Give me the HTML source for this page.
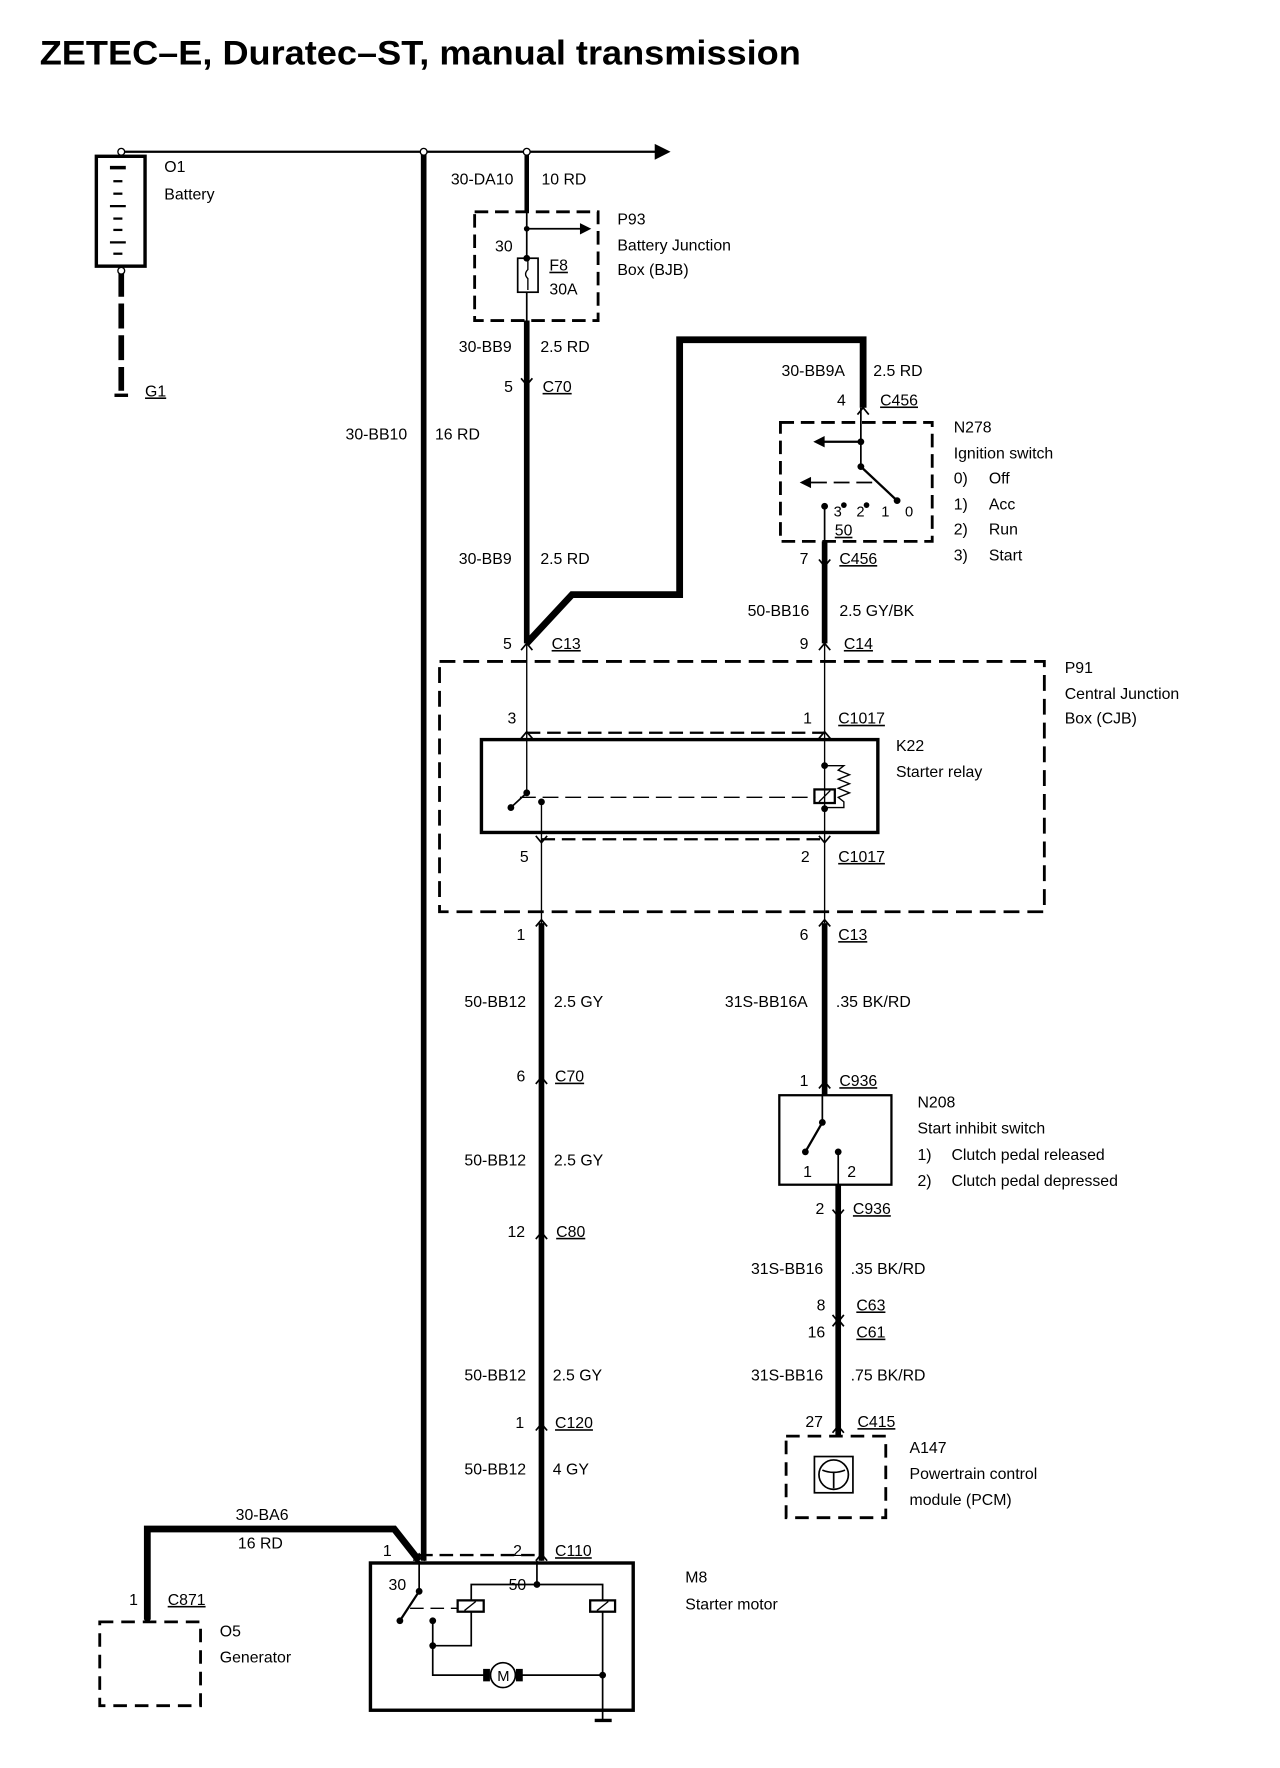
<!DOCTYPE html>
<html><head><meta charset="utf-8"><style>
html,body{margin:0;padding:0;background:#fff;}
svg{display:block;}
text{font-family:"Liberation Sans",sans-serif;font-size:14px;fill:#000;}
.u{text-decoration:underline;}
</style></head><body>
<svg width="1280" height="1768" viewBox="0 0 1130 1561" xmlns="http://www.w3.org/2000/svg">
<g fill="none" stroke="#000">
<!-- top bus -->
<line x1="107" y1="134" x2="580" y2="134" stroke-width="2"/>
<polygon points="578,127 592,134 578,141" fill="#000" stroke="none"/>
<!-- battery -->
<rect x="85" y="138" width="43" height="97" stroke-width="3"/>
<g stroke-width="2">
<line x1="97" y1="148" x2="111" y2="148" stroke-width="3"/>
<line x1="100" y1="160" x2="108" y2="160"/><line x1="100" y1="171" x2="108" y2="171"/>
<line x1="97" y1="182" x2="111" y2="182"/><line x1="100" y1="193" x2="108" y2="193"/>
<line x1="100" y1="203" x2="108" y2="203"/><line x1="97" y1="214" x2="111" y2="214"/>
<line x1="100" y1="224" x2="108" y2="224"/>
</g>
<line x1="107" y1="240" x2="107" y2="345" stroke-width="5" stroke-dasharray="22,6"/>
<line x1="101" y1="349" x2="113" y2="349" stroke-width="3"/>
<!-- 30-BB10 -->
<line x1="374" y1="134" x2="374" y2="1378" stroke-width="5"/>
<!-- 10RD / fuse -->
<line x1="465" y1="134" x2="465" y2="186" stroke-width="4"/>
<rect x="419" y="187" width="109" height="96" stroke-width="2.5" stroke-dasharray="12,6"/>
<line x1="465" y1="186" x2="465" y2="228" stroke-width="1.5"/>
<line x1="465" y1="202" x2="515" y2="202" stroke-width="1.5"/>
<polygon points="512,197 522,202 512,207" fill="#000" stroke="none"/>
<rect x="457" y="228" width="18" height="30" stroke-width="1.5"/>
<path d="M466,230 v8 q-4,4 0,8 v10" stroke-width="1.2"/>
<line x1="465" y1="258" x2="465" y2="283" stroke-width="1.5"/>
<line x1="465" y1="283" x2="465" y2="568" stroke-width="5"/>
<!-- feed to ignition -->
<polyline points="465,568 505,525 600,525 600,300 762,300 762,360" stroke-width="6" stroke-linejoin="miter"/>
<!-- ignition switch -->
<rect x="689" y="373" width="134" height="105" stroke-width="2.5" stroke-dasharray="12,6"/>
<line x1="760" y1="360" x2="760" y2="412" stroke-width="1.5"/>
<line x1="760" y1="390" x2="727" y2="390" stroke-width="2"/>
<polygon points="728,385 718,390 728,395" fill="#000" stroke="none"/>
<line x1="760" y1="412" x2="792" y2="442" stroke-width="2"/>
<line x1="770" y1="426" x2="716" y2="426" stroke-width="1.5" stroke-dasharray="14,6"/>
<polygon points="716,421 706,426 716,431" fill="#000" stroke="none"/>
<line x1="728" y1="447" x2="728" y2="568" stroke-width="1.5"/>
<line x1="728" y1="478" x2="728" y2="568" stroke-width="5"/>
<!-- CJB -->
<rect x="388" y="584" width="534" height="221" stroke-width="2.5" stroke-dasharray="14,7"/>
<line x1="465" y1="568" x2="465" y2="700" stroke-width="1.2"/>
<line x1="728" y1="568" x2="728" y2="815" stroke-width="1.2"/>
<line x1="465" y1="647" x2="728" y2="647" stroke-width="2" stroke-dasharray="12,6"/>
<line x1="478" y1="741" x2="728" y2="741" stroke-width="2" stroke-dasharray="12,6"/>
<rect x="425" y="653" width="350" height="82" stroke-width="3"/>
<line x1="465" y1="700" x2="451" y2="713" stroke-width="1.5"/>
<line x1="459" y1="704" x2="720" y2="704" stroke-width="1.2" stroke-dasharray="14,6"/>
<rect x="719" y="697" width="18" height="12" stroke-width="2"/>
<line x1="723" y1="708" x2="733" y2="698" stroke-width="1.2"/>
<path d="M728,676 h17 l-5,4 10,4 -10,4 10,4 -10,4 10,4 -10,4 5,4 v5 h-17" stroke-width="1.2"/>
<line x1="478" y1="708" x2="478" y2="1378" stroke-width="1.2"/>
<line x1="478" y1="815" x2="478" y2="1378" stroke-width="5"/>
<line x1="728" y1="815" x2="728" y2="967" stroke-width="5"/>
<!-- N208 -->
<rect x="688" y="967" width="99" height="79" stroke-width="2"/>
<line x1="726" y1="967" x2="726" y2="991" stroke-width="1.5"/>
<line x1="726" y1="991" x2="711" y2="1017" stroke-width="2"/>
<line x1="740" y1="1017" x2="740" y2="1046" stroke-width="1.5"/>
<line x1="740" y1="1046" x2="740" y2="1267" stroke-width="5"/>
<!-- A147 -->
<rect x="694" y="1268" width="88" height="72" stroke-width="2.5" stroke-dasharray="12,7"/>
<rect x="719" y="1286" width="34" height="32" stroke-width="1.5"/>
<circle cx="736" cy="1302" r="13" stroke-width="1.5"/>
<path d="M726,1298 q10,4 20,0 M736,1300 v14" stroke-width="1.5"/>
<!-- generator feed -->
<polyline points="130,1430 130,1350 348,1350 370,1378" stroke-width="6"/>
<rect x="88" y="1432" width="89" height="74" stroke-width="2.5" stroke-dasharray="12,7"/>
<!-- starter -->
<line x1="370" y1="1373" x2="478" y2="1373" stroke-width="2" stroke-dasharray="12,6"/>
<rect x="327" y="1380" width="232" height="130" stroke-width="3"/>
<line x1="370" y1="1378" x2="370" y2="1405" stroke-width="1.5"/>
<line x1="370" y1="1405" x2="353" y2="1431" stroke-width="2"/>
<line x1="362" y1="1420" x2="404" y2="1420" stroke-width="1.2" stroke-dasharray="12,6"/>
<line x1="474" y1="1378" x2="474" y2="1399" stroke-width="1.5"/>
<polyline points="416,1413 416,1399 532,1399 532,1413" stroke-width="1.5"/>
<rect x="404" y="1413" width="23" height="10" stroke-width="2"/>
<line x1="410" y1="1422" x2="420" y2="1414" stroke-width="1.2"/>
<rect x="521" y="1413" width="22" height="10" stroke-width="2"/>
<line x1="527" y1="1422" x2="537" y2="1414" stroke-width="1.2"/>
<polyline points="416,1423 416,1453 382,1453" stroke-width="1.5"/>
<polyline points="382,1431 382,1479 432,1479" stroke-width="1.5"/>
<line x1="456" y1="1479" x2="532" y2="1479" stroke-width="1.5"/>
<line x1="532" y1="1423" x2="532" y2="1518" stroke-width="1.5"/>
<line x1="525" y1="1519" x2="540" y2="1519" stroke-width="3"/>
<circle cx="444" cy="1479" r="11" stroke-width="1.5"/>
<rect x="427" y="1474" width="5" height="10" fill="#000"/>
<rect x="456" y="1474" width="5" height="10" fill="#000"/>
</g>
<!-- dots -->
<g fill="#000">
<circle cx="465" cy="202" r="2.5"/><circle cx="465" cy="228" r="3"/>
<circle cx="760" cy="390" r="3"/><circle cx="760" cy="412" r="3"/><circle cx="792" cy="442" r="3"/>
<circle cx="728" cy="447" r="3"/><circle cx="745" cy="446" r="2.5"/><circle cx="765" cy="446" r="2.5"/>
<circle cx="465" cy="700" r="3"/><circle cx="451" cy="713" r="3"/><circle cx="478" cy="708" r="3"/>
<circle cx="728" cy="676" r="3"/><circle cx="728" cy="714" r="3"/>
<circle cx="726" cy="991" r="3"/><circle cx="711" cy="1017" r="3"/><circle cx="740" cy="1017" r="3"/>
<circle cx="370" cy="1405" r="3"/><circle cx="353" cy="1431" r="3"/><circle cx="382" cy="1431" r="3"/>
<circle cx="382" cy="1453" r="3"/><circle cx="474" cy="1399" r="3"/><circle cx="532" cy="1479" r="3"/>
<circle cx="130" cy="1430" r="2.5"/>
</g>
<g fill="#fff" stroke="#000" stroke-width="1.2">
<circle cx="107" cy="134" r="3"/><circle cx="374" cy="134" r="3"/><circle cx="465" cy="134" r="3"/><circle cx="107" cy="239" r="3"/>
</g>
<!-- connector chevrons -->
<g fill="none" stroke="#000" stroke-width="1.5">
<path d="M460,334 l5,6 5,-6"/><path d="M757,366 l5,-6 5,6"/><path d="M723,494 l5,6 5,-6"/>
<path d="M460,574 l5,-6 5,6"/><path d="M723,574 l5,-6 5,6"/>
<path d="M460,652 l5,-6 5,6"/><path d="M723,652 l5,-6 5,6"/>
<path d="M473,738 l5,6 5,-6"/><path d="M723,738 l5,6 5,-6"/>
<path d="M473,818 l5,-6 5,6"/><path d="M723,818 l5,-6 5,6"/>
<path d="M473,957 l5,-6 5,6"/><path d="M723,961 l5,-6 5,6"/>
<path d="M735,1068 l5,6 5,-6"/><path d="M473,1094 l5,-6 5,6"/>
<path d="M735,1161 l5,6 5,-6"/><path d="M735,1171 l5,-6 5,6"/>
<path d="M473,1263 l5,-6 5,6"/><path d="M735,1265 l5,-6 5,6"/>
<path d="M365,1378 l5,-6 5,6"/><path d="M473,1378 l5,-6 5,6"/>
</g>
<!-- title -->
<text x="35" y="57" style="font-size:30px;font-weight:bold" textLength="672" lengthAdjust="spacingAndGlyphs">ZETEC–E, Duratec–ST, manual transmission</text>
<!-- labels -->
<g>
<text x="145" y="152">O1</text><text x="145" y="176">Battery</text>
<text x="128" y="350" class="u">G1</text>
<text x="398" y="163">30-DA10</text><text x="478" y="163">10 RD</text>
<text x="545" y="198">P93</text><text x="545" y="221">Battery Junction</text><text x="545" y="243">Box (BJB)</text>
<text x="437" y="222">30</text><text x="485" y="239" class="u">F8</text><text x="485" y="260">30A</text>
<text x="405" y="311">30-BB9</text><text x="477" y="311">2.5 RD</text>
<text x="445" y="346">5</text><text x="479" y="346" class="u">C70</text>
<text x="305" y="388">30-BB10</text><text x="384" y="388">16 RD</text>
<text x="690" y="332">30-BB9A</text><text x="771" y="332">2.5 RD</text>
<text x="739" y="358">4</text><text x="777" y="358" class="u">C456</text>
<text x="842" y="382">N278</text><text x="842" y="405">Ignition switch</text>
<text x="842" y="427">0)</text><text x="873" y="427">Off</text>
<text x="842" y="450">1)</text><text x="873" y="450">Acc</text>
<text x="842" y="472">2)</text><text x="873" y="472">Run</text>
<text x="842" y="495">3)</text><text x="873" y="495">Start</text>
<text x="736" y="456" style="font-size:13px">3</text><text x="756" y="456" style="font-size:13px">2</text><text x="778" y="456" style="font-size:13px">1</text><text x="799" y="456" style="font-size:13px">0</text>
<text x="737" y="473" class="u">50</text>
<text x="405" y="498">30-BB9</text><text x="477" y="498">2.5 RD</text>
<text x="706" y="498">7</text><text x="741" y="498" class="u">C456</text>
<text x="660" y="544">50-BB16</text><text x="741" y="544">2.5 GY/BK</text>
<text x="444" y="573">5</text><text x="487" y="573" class="u">C13</text>
<text x="706" y="573">9</text><text x="745" y="573" class="u">C14</text>
<text x="940" y="594">P91</text><text x="940" y="617">Central Junction</text><text x="940" y="639">Box (CJB)</text>
<text x="448" y="639">3</text><text x="709" y="639">1</text><text x="740" y="639" class="u">C1017</text>
<text x="791" y="663">K22</text><text x="791" y="686">Starter relay</text>
<text x="459" y="761">5</text><text x="707" y="761">2</text><text x="740" y="761" class="u">C1017</text>
<text x="456" y="830">1</text><text x="706" y="830">6</text><text x="740" y="830" class="u">C13</text>
<text x="410" y="889">50-BB12</text><text x="489" y="889">2.5 GY</text>
<text x="640" y="889">31S-BB16A</text><text x="738" y="889">.35 BK/RD</text>
<text x="456" y="955">6</text><text x="490" y="955" class="u">C70</text>
<text x="706" y="959">1</text><text x="741" y="959" class="u">C936</text>
<text x="810" y="978">N208</text><text x="810" y="1001">Start inhibit switch</text>
<text x="810" y="1024">1)</text><text x="840" y="1024">Clutch pedal released</text>
<text x="810" y="1047">2)</text><text x="840" y="1047">Clutch pedal depressed</text>
<text x="709" y="1039">1</text><text x="748" y="1039">2</text>
<text x="410" y="1029">50-BB12</text><text x="489" y="1029">2.5 GY</text>
<text x="720" y="1072">2</text><text x="753" y="1072" class="u">C936</text>
<text x="448" y="1092">12</text><text x="491" y="1092" class="u">C80</text>
<text x="663" y="1125">31S-BB16</text><text x="751" y="1125">.35 BK/RD</text>
<text x="721" y="1157">8</text><text x="756" y="1157" class="u">C63</text>
<text x="713" y="1181">16</text><text x="756" y="1181" class="u">C61</text>
<text x="410" y="1219">50-BB12</text><text x="488" y="1219">2.5 GY</text>
<text x="663" y="1219">31S-BB16</text><text x="751" y="1219">.75 BK/RD</text>
<text x="455" y="1261">1</text><text x="490" y="1261" class="u">C120</text>
<text x="711" y="1260">27</text><text x="757" y="1260" class="u">C415</text>
<text x="803" y="1283">A147</text><text x="803" y="1306">Powertrain control</text><text x="803" y="1329">module (PCM)</text>
<text x="410" y="1302">50-BB12</text><text x="488" y="1302">4 GY</text>
<text x="208" y="1342">30-BA6</text><text x="210" y="1367">16 RD</text>
<text x="338" y="1374">1</text><text x="453" y="1374">2</text><text x="490" y="1374" class="u">C110</text>
<text x="343" y="1404">30</text><text x="449" y="1404">50</text>
<text x="605" y="1397">M8</text><text x="605" y="1421">Starter motor</text>
<text x="114" y="1417">1</text><text x="148" y="1417" class="u">C871</text>
<text x="194" y="1445">O5</text><text x="194" y="1468">Generator</text>
<text x="439" y="1484" style="font-size:13px">M</text>
</g>
</svg>
</body></html>
